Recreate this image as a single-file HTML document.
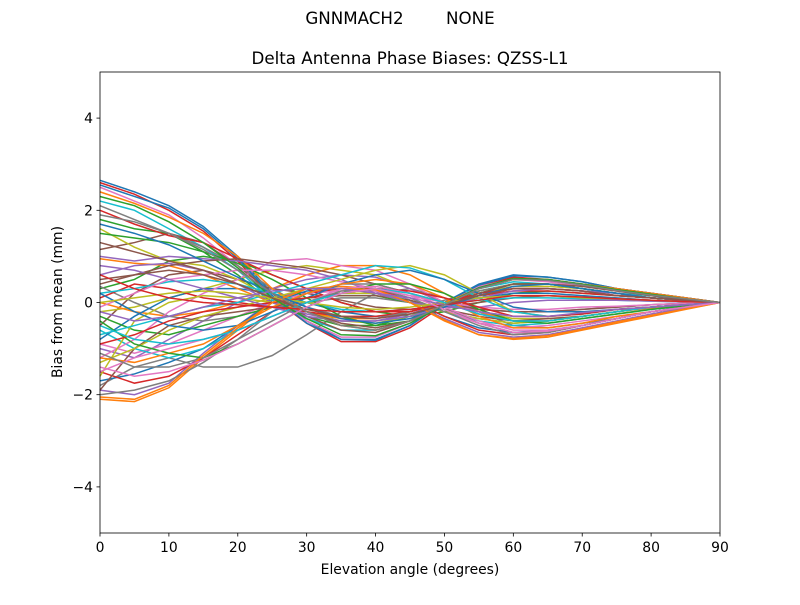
<!DOCTYPE html>
<html><head><meta charset="utf-8"><style>
body{margin:0;background:#fff}
svg text{font-family:"DejaVu Sans","Liberation Sans",sans-serif;fill:#000}
</style></head><body>
<svg id="chart" width="800" height="600" viewBox="0 0 800 600">
<rect width="800" height="600" fill="#fff"/>
<text x="400" y="24" font-size="16.7" text-anchor="middle" xml:space="preserve">GNNMACH2        NONE</text>
<text x="410" y="64" font-size="16.7" text-anchor="middle">Delta Antenna Phase Biases: QZSS-L1</text>
<g id="lines"></g>
<g id="axes"></g>
<text x="410" y="574" font-size="13.9" text-anchor="middle">Elevation angle (degrees)</text>
<text x="0" y="0" font-size="13.9" text-anchor="middle" transform="translate(62,302) rotate(-90)">Bias from mean (mm)</text>
</svg>
<script>
const elevations=[0,5,10,15,20,25,30,35,40,45,50,55,60,65,70,75,80,85,90];
const xTicks=[0,10,20,30,40,50,60,70,80,90];
const yTicks=[-4,-2,0,2,4];
const seriesValues=[
[2.65,2.4,2.1,1.65,1.0,0.2,-0.4,-0.8,-0.8,-0.5,0.0,0.4,0.6,0.55,0.45,0.3,0.2,0.1,0],
[-2.1,-2.15,-1.85,-1.2,-0.6,0.0,0.3,0.35,0.3,0.0,-0.4,-0.7,-0.8,-0.75,-0.6,-0.45,-0.3,-0.15,0],
[0.3,0.5,0.9,1.0,0.9,0.6,0.3,0.0,-0.2,-0.3,-0.2,0.0,0.2,0.25,0.2,0.15,0.1,0.05,0],
[2.6,2.35,2.0,1.55,0.9,0.1,-0.45,-0.85,-0.85,-0.55,-0.05,0.35,0.55,0.5,0.4,0.3,0.2,0.1,0],
[-1.9,-2.0,-1.75,-1.1,-0.5,0.05,0.3,0.3,0.25,0.0,-0.35,-0.65,-0.75,-0.7,-0.55,-0.4,-0.25,-0.12,0],
[-0.5,0.2,0.6,0.7,0.5,0.3,0.2,0.05,-0.1,-0.15,-0.1,0.0,0.1,0.15,0.1,0.08,0.05,0.02,0],
[2.5,2.2,1.9,1.4,0.8,0.1,-0.4,-0.75,-0.75,-0.45,0.0,0.35,0.5,0.45,0.35,0.25,0.15,0.08,0],
[-1.8,-1.4,-1.2,-1.4,-1.4,-1.15,-0.7,-0.2,0.2,0.3,0.1,-0.2,-0.5,-0.55,-0.45,-0.35,-0.2,-0.1,0],
[-0.2,-0.1,0.1,0.3,0.5,0.7,0.8,0.7,0.6,0.3,0.0,-0.2,-0.35,-0.35,-0.3,-0.2,-0.1,-0.05,0],
[2.2,2.0,1.6,1.2,0.7,0.05,-0.35,-0.6,-0.6,-0.4,0.0,0.3,0.45,0.4,0.3,0.2,0.15,0.05,0],
[-1.7,-1.55,-1.3,-1.0,-0.5,0.0,0.25,0.3,0.3,0.05,-0.3,-0.55,-0.65,-0.6,-0.5,-0.35,-0.2,-0.1,0],
[0.0,-0.2,-0.3,-0.2,0.0,0.3,0.6,0.8,0.8,0.6,0.2,-0.2,-0.4,-0.4,-0.3,-0.2,-0.12,-0.05,0],
[1.8,1.6,1.5,1.1,0.6,0.0,-0.3,-0.5,-0.5,-0.3,0.0,0.25,0.4,0.4,0.3,0.2,0.1,0.05,0],
[-1.5,-1.75,-1.6,-1.2,-0.7,-0.2,0.2,0.3,0.3,0.05,-0.3,-0.6,-0.7,-0.65,-0.5,-0.35,-0.2,-0.1,0],
[-1.0,-1.2,-0.8,-0.4,0.0,0.3,0.5,0.6,0.55,0.3,0.0,-0.25,-0.4,-0.4,-0.3,-0.2,-0.1,-0.05,0],
[1.15,1.3,1.5,1.3,0.8,0.2,-0.3,-0.6,-0.65,-0.4,0.0,0.3,0.5,0.5,0.4,0.3,0.2,0.1,0],
[-0.9,-1.1,-0.9,-0.6,-0.3,0.0,0.2,0.25,0.25,0.05,-0.2,-0.45,-0.55,-0.5,-0.4,-0.3,-0.2,-0.1,0],
[0.35,0.0,-0.3,-0.4,-0.3,-0.1,0.0,0.1,0.1,0.0,-0.1,-0.15,-0.2,-0.2,-0.15,-0.1,-0.05,-0.02,0],
[1.6,1.2,0.9,0.8,0.5,0.1,-0.2,-0.4,-0.45,-0.3,0.0,0.2,0.35,0.35,0.3,0.2,0.1,0.05,0],
[-0.6,-1.0,-1.2,-1.0,-0.6,-0.3,0.0,0.2,0.2,0.05,-0.2,-0.4,-0.5,-0.45,-0.35,-0.25,-0.15,-0.08,0],
[-0.8,-0.3,0.1,0.3,0.3,0.2,0.0,-0.2,-0.3,-0.25,-0.1,0.1,0.2,0.2,0.15,0.1,0.05,0.02,0],
[0.95,0.85,0.8,0.6,0.3,0.0,-0.2,-0.35,-0.35,-0.2,0.0,0.15,0.3,0.3,0.25,0.15,0.1,0.05,0],
[-0.3,-0.6,-0.7,-0.5,-0.3,-0.1,0.1,0.15,0.15,0.0,-0.2,-0.35,-0.45,-0.4,-0.3,-0.2,-0.1,-0.05,0],
[0.1,0.4,0.3,0.1,0.0,-0.1,-0.2,-0.3,-0.3,-0.2,0.0,0.15,0.25,0.25,0.2,0.15,0.1,0.05,0],
[0.6,0.8,0.85,0.7,0.4,0.0,-0.25,-0.4,-0.4,-0.25,0.0,0.2,0.3,0.3,0.25,0.15,0.1,0.05,0],
[-1.9,-1.0,-0.5,-0.3,-0.2,-0.1,0.1,0.15,0.15,0.05,-0.15,-0.3,-0.4,-0.35,-0.3,-0.2,-0.1,-0.05,0],
[-1.2,-0.8,-0.2,0.2,0.5,0.9,0.95,0.8,0.7,0.4,0.0,-0.2,-0.3,-0.3,-0.25,-0.15,-0.1,-0.05,0],
[2.1,1.8,1.5,1.2,0.8,0.3,-0.1,-0.3,-0.35,-0.2,0.05,0.25,0.4,0.4,0.3,0.2,0.1,0.05,0],
[-1.6,-0.4,0.0,0.15,0.1,0.0,0.1,0.2,0.2,0.0,-0.2,-0.35,-0.45,-0.4,-0.3,-0.2,-0.1,-0.05,0],
[0.2,0.3,0.45,0.5,0.4,0.2,0.0,-0.15,-0.2,-0.15,-0.05,0.05,0.1,0.1,0.08,0.05,0.03,0.01,0],
[2.55,2.3,2.05,1.6,0.95,0.15,-0.45,-0.8,-0.82,-0.5,0.0,0.38,0.58,0.55,0.45,0.3,0.2,0.1,0],
[2.4,2.15,1.85,1.5,1.0,0.3,-0.2,-0.5,-0.6,-0.4,0.0,0.3,0.5,0.5,0.4,0.3,0.2,0.1,0],
[1.5,1.4,1.3,1.1,0.85,0.5,0.1,-0.3,-0.5,-0.4,-0.1,0.2,0.4,0.4,0.3,0.2,0.1,0.05,0],
[2.0,1.7,1.45,1.3,0.95,0.6,0.3,0.0,-0.2,-0.2,0.0,0.2,0.3,0.3,0.25,0.15,0.1,0.05,0],
[1.0,0.9,1.0,0.95,0.9,0.8,0.7,0.5,0.2,0.0,-0.1,-0.1,0.0,0.05,0.05,0.05,0.03,0.01,0],
[0.5,0.6,0.8,0.9,0.95,0.85,0.75,0.6,0.4,0.2,0.0,-0.15,-0.2,-0.2,-0.15,-0.1,-0.05,-0.02,0],
[-0.1,0.2,0.5,0.6,0.7,0.7,0.6,0.45,0.3,0.15,0.0,-0.1,-0.15,-0.15,-0.1,-0.08,-0.05,-0.02,0],
[-2.0,-1.9,-1.7,-1.3,-0.8,-0.2,0.2,0.4,0.4,0.2,-0.1,-0.45,-0.65,-0.65,-0.5,-0.35,-0.2,-0.1,0],
[-1.3,-1.0,-0.6,-0.3,-0.1,0.1,0.3,0.5,0.7,0.8,0.6,0.2,-0.2,-0.3,-0.25,-0.15,-0.1,-0.05,0],
[-0.7,-0.5,-0.3,-0.1,0.0,0.2,0.4,0.6,0.8,0.75,0.5,0.1,-0.2,-0.3,-0.25,-0.15,-0.1,-0.05,0],
[0.2,-0.2,-0.5,-0.6,-0.5,-0.2,0.1,0.4,0.6,0.7,0.5,0.2,-0.1,-0.2,-0.2,-0.15,-0.1,-0.05,0],
[-1.2,-1.3,-1.1,-0.9,-0.5,-0.1,0.2,0.4,0.5,0.4,0.1,-0.3,-0.55,-0.55,-0.45,-0.3,-0.2,-0.1,0],
[-0.4,-0.9,-1.1,-1.2,-0.9,-0.5,-0.1,0.2,0.4,0.4,0.2,-0.15,-0.4,-0.45,-0.35,-0.25,-0.15,-0.07,0],
[-0.9,-0.7,-0.4,-0.2,-0.1,0.0,0.1,0.2,0.3,0.25,0.1,-0.1,-0.3,-0.3,-0.25,-0.15,-0.1,-0.05,0],
[0.8,0.7,0.5,0.3,0.1,-0.1,-0.3,-0.4,-0.4,-0.3,-0.1,0.1,0.25,0.3,0.25,0.2,0.1,0.05,0],
[1.3,1.1,0.9,0.7,0.4,0.1,-0.2,-0.45,-0.55,-0.4,-0.1,0.2,0.4,0.4,0.35,0.25,0.15,0.07,0],
[-1.5,-1.2,-1.0,-0.8,-0.6,-0.3,0.0,0.3,0.35,0.2,-0.1,-0.4,-0.6,-0.6,-0.5,-0.35,-0.2,-0.1,0],
[-1.1,-1.4,-1.4,-1.2,-0.8,-0.4,0.0,0.25,0.3,0.1,-0.2,-0.5,-0.7,-0.65,-0.5,-0.35,-0.2,-0.1,0],
[0.0,0.1,0.2,0.25,0.2,0.1,0.0,-0.1,-0.15,-0.1,0.0,0.1,0.15,0.15,0.1,0.08,0.05,0.02,0],
[-0.5,-0.8,-0.9,-0.8,-0.6,-0.3,0.0,0.2,0.3,0.2,0.0,-0.25,-0.4,-0.4,-0.3,-0.2,-0.1,-0.05,0],
[1.7,1.5,1.25,0.9,0.55,0.2,-0.1,-0.35,-0.45,-0.35,-0.1,0.15,0.35,0.4,0.3,0.2,0.1,0.05,0],
[-2.05,-2.1,-1.8,-1.15,-0.55,0.0,0.3,0.3,0.28,0.0,-0.38,-0.7,-0.78,-0.72,-0.58,-0.42,-0.28,-0.14,0],
[2.3,2.1,1.75,1.3,0.75,0.1,-0.35,-0.7,-0.72,-0.45,-0.05,0.32,0.52,0.5,0.4,0.28,0.18,0.08,0],
[0.6,0.3,0.1,0.0,-0.05,-0.1,-0.15,-0.2,-0.2,-0.15,-0.05,0.05,0.15,0.15,0.12,0.08,0.05,0.02,0],
[-0.2,-0.4,-0.3,-0.1,0.1,0.25,0.3,0.3,0.2,0.1,-0.05,-0.2,-0.3,-0.3,-0.22,-0.15,-0.1,-0.05,0],
[0.4,0.6,0.7,0.6,0.4,0.1,-0.15,-0.3,-0.35,-0.25,-0.05,0.15,0.3,0.3,0.25,0.15,0.1,0.05,0],
[-1.4,-1.6,-1.5,-1.25,-0.9,-0.5,-0.1,0.2,0.3,0.15,-0.15,-0.45,-0.65,-0.62,-0.5,-0.35,-0.2,-0.1,0],
[1.9,1.75,1.5,1.15,0.7,0.2,-0.2,-0.5,-0.6,-0.4,-0.05,0.3,0.5,0.48,0.38,0.26,0.16,0.08,0]
];
const colors=["#1f77b4","#ff7f0e","#2ca02c","#d62728","#9467bd","#8c564b","#e377c2","#7f7f7f","#bcbd22","#17becf"];
const X0=100,X1=720,Y0=533,Y1=72,XMIN=0,XMAX=90,YMIN=-5,YMAX=5;
const xs=v=>X0+(v-XMIN)/(XMAX-XMIN)*(X1-X0);
const ys=v=>Y0-(v-YMIN)/(YMAX-YMIN)*(Y0-Y1);
const NS="http://www.w3.org/2000/svg";
const lines=document.getElementById('lines');
const axes=document.getElementById('axes');
seriesValues.forEach((s,i)=>{
  const p=document.createElementNS(NS,'path');
  p.setAttribute('d',s.map((v,j)=>(j?'L':'M')+xs(elevations[j]).toFixed(2)+','+ys(v).toFixed(2)).join(''));
  p.setAttribute('fill','none');
  p.setAttribute('stroke',colors[i%10]);
  p.setAttribute('stroke-width','1.5');
  
  
  lines.appendChild(p);
});
const frame=document.createElementNS(NS,'rect');
frame.setAttribute('x',X0);frame.setAttribute('y',Y1);
frame.setAttribute('width',X1-X0);frame.setAttribute('height',Y0-Y1);
frame.setAttribute('fill','none');frame.setAttribute('stroke','#000');frame.setAttribute('stroke-width','0.8');


axes.appendChild(frame);
xTicks.forEach(t=>{
  const l=document.createElementNS(NS,'line');
  l.setAttribute('x1',xs(t));l.setAttribute('x2',xs(t));l.setAttribute('y1',Y0);l.setAttribute('y2',Y0+3.5);
  l.setAttribute('stroke','#000');l.setAttribute('stroke-width','0.8');
  
  
  axes.appendChild(l);
  const tx=document.createElementNS(NS,'text');
  tx.setAttribute('x',xs(t));tx.setAttribute('y',Y0+19);tx.setAttribute('font-size','13.9');tx.setAttribute('text-anchor','middle');
  tx.textContent=t;
  
  
  axes.appendChild(tx);
});
yTicks.forEach(t=>{
  const l=document.createElementNS(NS,'line');
  l.setAttribute('x1',X0-3.5);l.setAttribute('x2',X0);l.setAttribute('y1',ys(t));l.setAttribute('y2',ys(t));
  l.setAttribute('stroke','#000');l.setAttribute('stroke-width','0.8');
  
  
  axes.appendChild(l);
  const tx=document.createElementNS(NS,'text');
  tx.setAttribute('x',X0-7);tx.setAttribute('y',ys(t)+5);tx.setAttribute('font-size','13.9');tx.setAttribute('text-anchor','end');
  tx.textContent=t<0?'\u2212'+Math.abs(t):String(t);
  
  
  axes.appendChild(tx);
});
</script>
</body></html>
